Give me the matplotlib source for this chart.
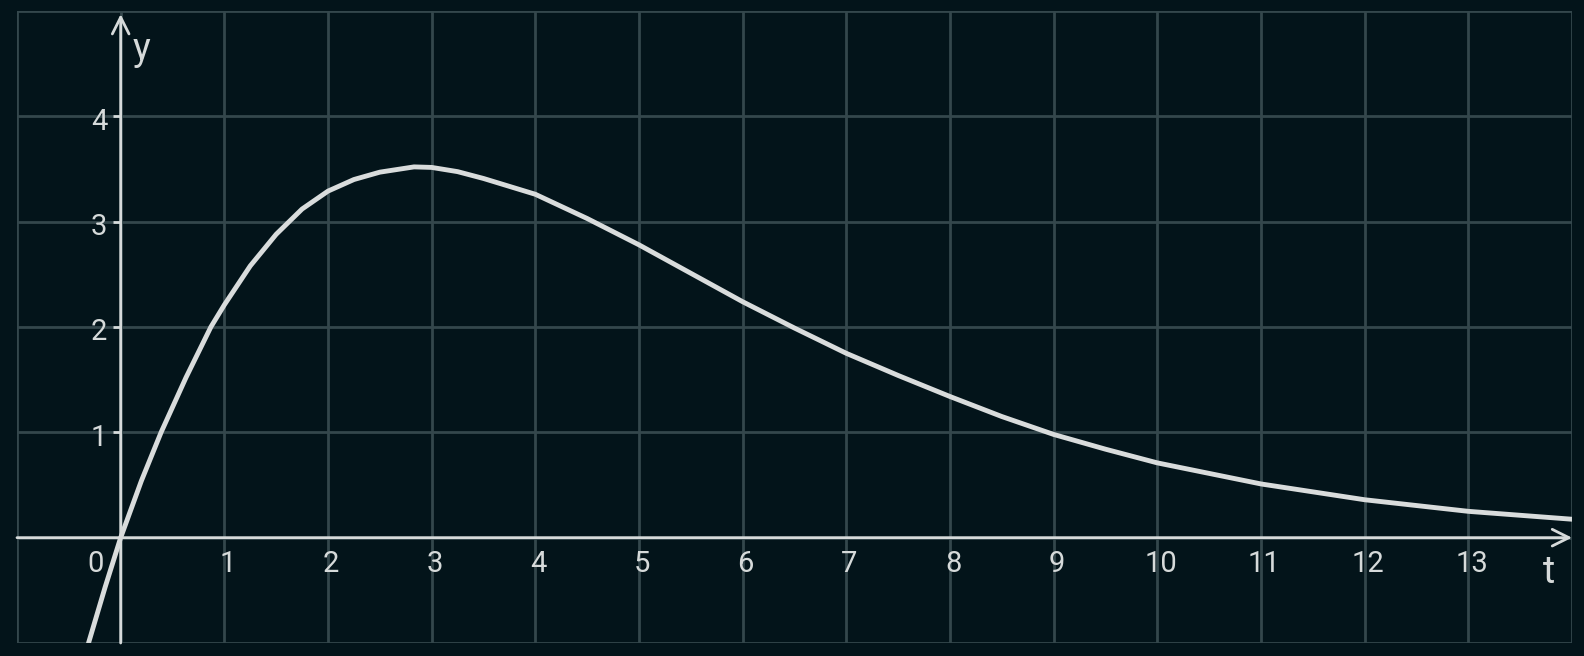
import matplotlib
matplotlib.use('Agg')
import matplotlib.pyplot as plt
import numpy as np

# values
t_vals = [-0.31, -0.15, 0.0, 0.2, 0.39, 0.63, 0.87, 1.0, 1.25, 1.5, 1.75,
          2.0, 2.25, 2.5, 2.83, 3.0, 3.25, 3.5, 4.0, 4.5, 5.0, 5.5, 6.0, 6.5,
          7.0, 7.5, 8.0, 8.5, 9.0, 9.5, 10.0, 11.0, 12.0, 13.0, 14.0]
y_vals = [-1.0, -0.47, 0.0, 0.54, 1.0, 1.52, 2.0, 2.21, 2.58, 2.88, 3.12,
          3.29, 3.40, 3.47, 3.52, 3.515, 3.475, 3.41, 3.26, 3.03, 2.78, 2.51, 2.24, 1.99,
          1.75, 1.54, 1.34, 1.15, 0.98, 0.84, 0.71, 0.51, 0.36, 0.25, 0.175]

x_ticks = [1, 2, 3, 4, 5, 6, 7, 8, 9, 10, 11, 12, 13]
y_ticks = [1, 2, 3, 4]

bg = '#03141a'
grid_c = '#34474c'
fg = '#d6dada'

plt.rcParams['font.family'] = ['Roboto', 'DejaVu Sans']

fig = plt.figure(figsize=(15.84, 6.56), dpi=100, facecolor=bg)
ax = fig.add_axes([17 / 1584, 13 / 656, 1555 / 1584, 632 / 656])
ax.set_facecolor(bg)
ax.set_xlim(-1, 14)
ax.set_ylim(-1, 5)

# grid including the outer frame
for gx in range(-1, 15):
    ax.axvline(gx, color=grid_c, lw=2.0, zorder=1)
for gy in range(-1, 6):
    ax.axhline(gy, color=grid_c, lw=2.0, zorder=1)
for s in ax.spines.values():
    s.set_visible(False)
ax.set_xticks([])
ax.set_yticks([])

# axes with open arrow heads
ax.annotate('', xy=(14.0, 0), xytext=(-1, 0),
            arrowprops=dict(arrowstyle='->', color=fg, lw=2.0,
                            mutation_scale=30, shrinkA=0, shrinkB=0), zorder=3)
ax.annotate('', xy=(0, 4.97), xytext=(0, -1),
            arrowprops=dict(arrowstyle='->', color=fg, lw=2.0,
                            mutation_scale=30, shrinkA=0, shrinkB=0), zorder=3)

# tick marks
for yt in y_ticks:
    ax.plot([-0.07, 0], [yt, yt], color=fg, lw=2.0, zorder=3, solid_capstyle='butt')

# tick labels
for xt in x_ticks:
    ax.text(xt + 0.03, -0.25, str(xt), color=fg, fontsize=21,
            ha='center', va='center', zorder=4)
ax.text(-0.24, -0.25, '0', color=fg, fontsize=21, ha='center', va='center', zorder=4)
for yt in y_ticks:
    ax.text(-0.13, yt - 0.05, str(yt), color=fg, fontsize=21,
            ha='right', va='center', zorder=4)

ax.text(0.2, 4.63, 'y', color=fg, fontsize=27, ha='center', va='center', zorder=4)
ax.text(13.78, -0.33, 't', color=fg, fontsize=27, ha='center', va='center', zorder=4)

ax.plot(t_vals, y_vals, color='#d9dcdc', lw=3.5, zorder=5,
        solid_capstyle='round', solid_joinstyle='round')

fig.savefig('out.png', dpi=100, facecolor=bg)
